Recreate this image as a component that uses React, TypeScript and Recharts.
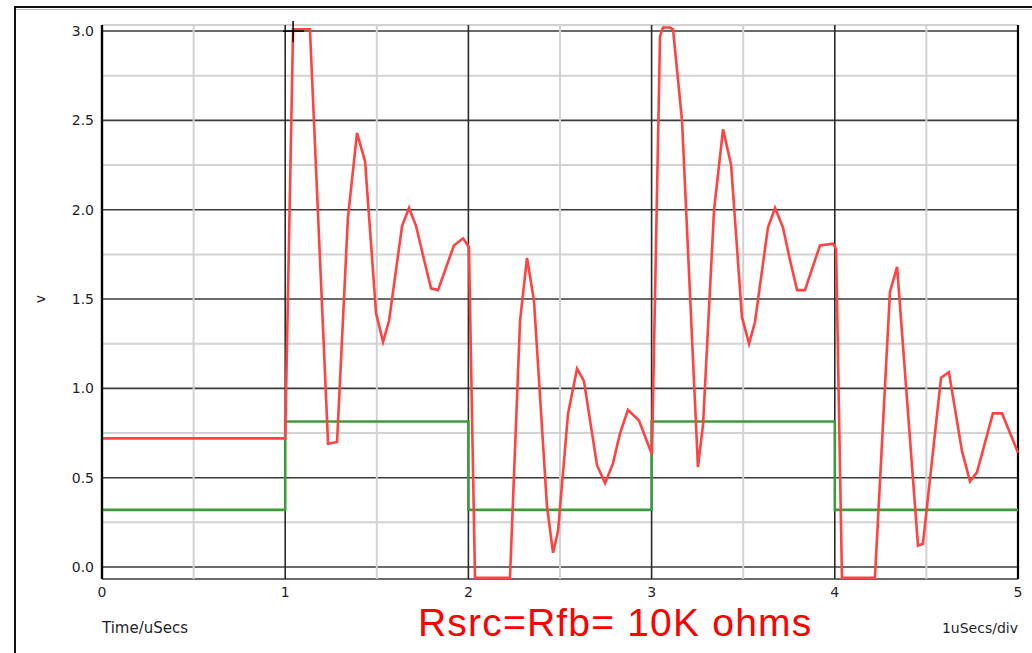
import React from "react";
import { LineChart, Line, XAxis, YAxis, CartesianGrid, ReferenceLine } from "recharts";

// output trace (red)
const redTime = [
  0, 1.0, 1.043, 1.135, 1.234, 1.283, 1.342, 1.392, 1.436, 1.496, 1.534, 1.567, 1.638, 1.676, 1.714,
  1.758, 1.796, 1.834, 1.921, 1.971, 2.003, 2.036, 2.227, 2.282, 2.32, 2.358, 2.429, 2.462, 2.489,
  2.544, 2.593, 2.631, 2.702, 2.746, 2.789, 2.828, 2.871, 2.931, 3.002, 3.046, 3.062, 3.1, 3.117,
  3.166, 3.253, 3.281, 3.341, 3.39, 3.434, 3.493, 3.532, 3.564, 3.635, 3.674, 3.717, 3.755, 3.794,
  3.837, 3.919, 3.99, 4.007, 4.039, 4.219, 4.301, 4.34, 4.454, 4.481, 4.58, 4.623, 4.694, 4.738,
  4.776, 4.863, 4.913, 5.0,
];
const redVolts = [
  0.72, 0.72, 3.01, 3.01, 0.69, 0.7, 1.95, 2.43, 2.27, 1.42, 1.26, 1.38, 1.91, 2.01, 1.91,
  1.72, 1.56, 1.55, 1.8, 1.84, 1.79, -0.06, -0.06, 1.38, 1.73, 1.49, 0.34, 0.08, 0.2,
  0.86, 1.11, 1.04, 0.57, 0.47, 0.58, 0.75, 0.88, 0.82, 0.63, 2.97, 3.02, 3.02, 3.01,
  2.5, 0.56, 0.8, 2.0, 2.45, 2.25, 1.4, 1.25, 1.37, 1.9, 2.01, 1.9, 1.72, 1.55,
  1.55, 1.8, 1.81, 1.78, -0.06, -0.06, 1.54, 1.68, 0.12, 0.13, 1.06, 1.09, 0.65, 0.48,
  0.53, 0.86, 0.86, 0.64,
];

// input square wave (green)
const greenTime = [0, 1, 1, 2, 2, 3, 3, 4, 4, 5];
const greenVolts = [0.32, 0.32, 0.815, 0.815, 0.32, 0.32, 0.815, 0.815, 0.32, 0.32];

const xTicks = [0, 0.5, 1, 1.5, 2, 2.5, 3, 3.5, 4, 4.5, 5];
const yTicks = [0, 0.25, 0.5, 0.75, 1, 1.25, 1.5, 1.75, 2, 2.25, 2.5, 2.75, 3];

const redData = redTime.map((t, i) => ({ t, v: redVolts[i] }));
const greenData = greenTime.map((t, i) => ({ t, v: greenVolts[i] }));

const tickFont = { fontSize: 14, fill: "#1f1f2a", fontFamily: "DejaVu Sans" };

// major lines every other tick, light grey minors between
const hLine = (p: any) => {
  const major = p.index % 2 === 0;
  return (
    <line
      key={p.key}
      x1={p.x1}
      y1={p.y1}
      x2={p.x2}
      y2={p.y2}
      stroke={major ? "#3a3a3a" : "#d2d2d2"}
      strokeWidth={major ? 1.6 : 2}
    />
  );
};

const vLine = (p: any) => {
  const major = p.index % 2 === 0;
  const edge = p.index === 0 || p.index === xTicks.length - 1;
  return (
    <line
      key={p.key}
      x1={p.x1}
      y1={p.y1}
      x2={p.x2}
      y2={p.y2}
      stroke={edge ? "#000" : major ? "#2a2a2a" : "#d2d2d2"}
      strokeWidth={edge ? 2.2 : major ? 1.6 : 2}
    />
  );
};

export default function App() {
  return (
    <div style={{ position: "absolute", left: 0, top: 0, width: 1032, height: 653, background: "#fff", overflow: "hidden" }}>
      {/* outer frame, only top/left edges visible */}
      <div style={{ position: "absolute", left: 14, top: 6, width: 1040, height: 700, borderTop: "2px solid #111", borderLeft: "2px solid #111" }} />
      <div style={{ position: "absolute", left: 16, top: 9, width: 1030, height: 1, background: "#b5b5b5" }} />

      <div style={{ position: "absolute", left: 0, top: 0 }}>
        <LineChart width={1032} height={653} margin={{ top: 25, right: 14, left: 0, bottom: 44 }}>
          <CartesianGrid horizontal={hLine} vertical={vLine} />
          <XAxis
            dataKey="t"
            type="number"
            domain={[0, 5]}
            ticks={xTicks}
            interval={0}
            height={30}
            axisLine={false}
            tickLine={false}
            tick={tickFont}
            tickFormatter={(v: number) => (Number.isInteger(v) ? String(v) : "")}
            allowDuplicatedCategory={false}
          />
          <YAxis
            dataKey="v"
            type="number"
            domain={[-0.067, 3.034]}
            allowDataOverflow
            ticks={yTicks}
            interval={0}
            width={102}
            axisLine={{ stroke: "#000", strokeWidth: 2.2 }}
            tickLine={false}
            tick={tickFont}
            tickFormatter={(v: number) => (Math.round(v * 2) === v * 2 ? v.toFixed(1) : "")}
          />
          <Line
            data={greenData}
            dataKey="v"
            type="linear"
            stroke="#3d9b3d"
            strokeWidth={2.6}
            dot={false}
            isAnimationActive={false}
          />
          <Line
            data={redData}
            dataKey="v"
            type="linear"
            stroke="#ff4242"
            strokeWidth={2.6}
            dot={false}
            isAnimationActive={false}
          />
          {/* cursor cross at the top */}
          <ReferenceLine segment={[{ x: 0.988, y: 3.0 }, { x: 1.103, y: 3.0 }]} stroke="#000" strokeWidth={1.5} ifOverflow="visible" />
          <ReferenceLine segment={[{ x: 1.043, y: 2.938 }, { x: 1.043, y: 3.056 }]} stroke="#000" strokeWidth={1.5} ifOverflow="visible" />
        </LineChart>
      </div>

      <div style={{ position: "absolute", left: 36, top: 292, fontFamily: "DejaVu Sans", fontSize: 14, lineHeight: "14px", color: "#1f1f2a", transform: "rotate(-90deg)" }}>v</div>
      <div style={{ position: "absolute", left: 102, top: 621, fontFamily: "DejaVu Sans", fontSize: 15, lineHeight: "15px", color: "#1f1f2a" }}>Time/uSecs</div>
      <div style={{ position: "absolute", right: 14, top: 621, fontFamily: "DejaVu Sans", fontSize: 14, lineHeight: "14px", color: "#1f1f2a" }}>1uSecs/div</div>
      <div style={{ position: "absolute", left: 418, top: 603, fontFamily: "Liberation Sans, Arial, sans-serif", fontSize: 39, lineHeight: "39px", letterSpacing: 1.2, color: "#ff0000", whiteSpace: "nowrap" }}>
        Rsrc=Rfb= 10K ohms
      </div>
    </div>
  );
}
